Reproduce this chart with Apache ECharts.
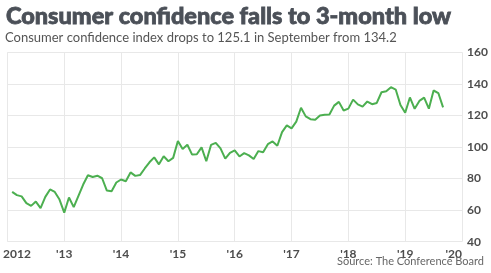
<!DOCTYPE html>
<html><head><meta charset="utf-8">
<script src="https://cdn.jsdelivr.net/npm/echarts@6/dist/echarts.min.js"></script>
<style>html,body{margin:0;padding:0;background:#fff}#c{width:491px;height:273px}</style>
</head><body><div id="c"></div>
<script>
// Monthly consumer confidence index, starting Feb 2012
var startYear = 2012, startMonth = 2;
var values2012 = [71.6, 69.5, 68.7, 64.4, 62.7, 65.4, 61.3, 68.4, 73.1, 71.5, 66.7];
var values2013 = [58.4, 68.0, 61.9, 69.0, 76.2, 82.1, 81.0, 81.8, 80.2, 72.4, 72.0, 77.5];
var values2014 = [79.4, 78.3, 83.9, 81.7, 82.2, 86.4, 90.3, 93.4, 89.0, 94.1, 91.0, 93.1];
var values2015 = [103.8, 98.8, 101.4, 95.2, 95.4, 99.8, 91.0, 101.3, 102.6, 99.1, 92.6, 96.3];
var values2016 = [97.8, 94.0, 96.1, 94.7, 92.4, 97.4, 96.7, 101.8, 103.5, 100.8, 109.4, 113.7];
var values2017 = [111.8, 116.1, 124.9, 119.4, 117.6, 117.3, 120.0, 120.4, 120.6, 126.2, 128.6, 123.1];
var values2018 = [124.3, 130.0, 127.0, 125.6, 128.8, 127.1, 127.9, 134.7, 135.3, 137.9, 136.4, 126.6];
var values2019 = [121.7, 131.4, 124.2, 129.2, 131.3, 124.3, 135.8, 134.2, 125.1];
var yTicks = [40, 60, 80, 100, 120, 140, 160];
var xYears = [2012, 2013, 2014, 2015, 2016, 2017, 2018, 2019, 2020];

var all = [].concat(values2012, values2013, values2014, values2015, values2016, values2017, values2018, values2019);
var data = all.map(function (v, i) {
  return [startYear + (startMonth - 1 + i) / 12, v];
});

var chart = echarts.init(document.getElementById('c'));
chart.setOption({
  animation: false,
  title: [
    { text: 'Consumer confidence falls to 3-month low', left: 1, top: -1,
      textStyle: { fontFamily: 'Lato', fontWeight: 900, fontSize: 23.5, color: '#4b5058',
        textBorderColor: '#4b5058', textBorderWidth: 0.8 } },
    { text: 'Consumer confidence index drops to 125.1 in September from 134.2', left: 0, top: 26,
      textStyle: { fontFamily: 'Lato', fontWeight: 'normal', fontSize: 13, color: '#555' } },
    { text: 'Source: The Conference Board', right: 2, bottom: 1,
      textStyle: { fontFamily: 'Lato', fontWeight: 'normal', fontSize: 11, color: '#666' } }
  ],
  grid: { left: 5, right: 29, top: 52.3, bottom: 31.3 },
  xAxis: {
    type: 'value', min: xYears[0], max: xYears[xYears.length - 1], interval: 1,
    axisLine: { show: false }, axisTick: { show: false },
    splitLine: { show: true, lineStyle: { color: '#e8e8e8', width: 1 } },
    axisLabel: {
      fontFamily: 'Lato', fontSize: 12, fontWeight: 'bold', color: '#4d4d4d', margin: 6,
      alignMaxLabel: 'right',
      formatter: function (v) { return v === xYears[0] ? '{first|' + v + '}' : "'" + String(v).slice(2); },
      rich: { first: { fontFamily: 'Lato', fontSize: 12, fontWeight: 'bold', color: '#4d4d4d', padding: [0, 0, 0, 19] } }
    }
  },
  yAxis: {
    type: 'value', position: 'right', min: yTicks[0], max: yTicks[yTicks.length - 1], interval: 20,
    axisLine: { show: false }, axisTick: { show: false },
    splitLine: { show: true, lineStyle: { color: '#e8e8e8', width: 1 } },
    axisLabel: { fontFamily: 'Lato', fontSize: 12, fontWeight: 'bold', color: '#4d4d4d', margin: 5 }
  },
  series: [{
    type: 'line', data: data, showSymbol: false, smooth: false,
    lineStyle: { color: '#4caf50', width: 2 }
  }]
});
</script></body></html>
